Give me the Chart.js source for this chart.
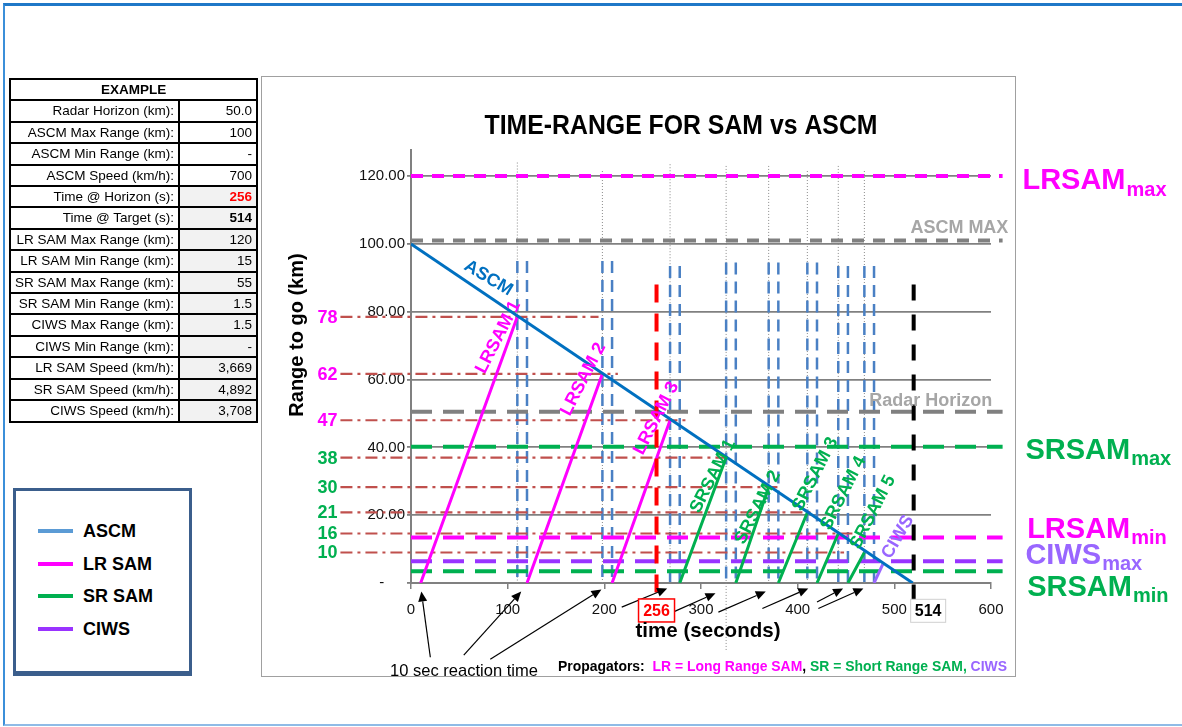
<!DOCTYPE html>
<html>
<head>
<meta charset="utf-8">
<script src="https://cdn.jsdelivr.net/npm/chart.js@4.4.1/dist/chart.umd.min.js"></script>
<style>
html, body { margin: 0; padding: 0; background: #fff; }
body { width: 1182px; height: 727px; position: relative; overflow: hidden; font-family: "Liberation Sans", Arial, sans-serif; }
#frame { position: absolute; left: 3px; top: 3px; width: 1179px; height: 723px; box-sizing: border-box;
  border-top: 3px solid #1f78c8; border-left: 2px solid #3b8fd9; border-bottom: 2px solid #8fbbe6; }
#chartBox { position: absolute; left: 261px; top: 76px; width: 755px; height: 601px; box-sizing: border-box;
  border: 1.5px solid #a0a0a0; background: #fff; }
#cv { position: absolute; left: 0; top: 0; }
#tbl { position: absolute; left: 9px; top: 78px; border-collapse: collapse; font-size: 13.5px; color: #000; }
#tbl td, #tbl th { border: 2px solid #000; padding: 0 4px; height: 19.4px; line-height: 19.4px; text-align: right; white-space: nowrap; }
#tbl th { text-align: center; font-weight: bold; }
#tbl td.lab { width: 158px; }
#tbl td.val { width: 68px; }
#legend { position: absolute; left: 13px; top: 488px; width: 179px; height: 188px; box-sizing: border-box;
  border: 3px solid #3b5e8c; border-bottom-width: 5px; background: #fff; }
#legend .sw { position: absolute; left: 22px; width: 35px; height: 4px; }
#legend .tx { position: absolute; left: 67px; font: bold 18px "Liberation Sans", Arial, sans-serif; line-height: 20px; }
</style>
</head>
<body>
<div id="frame"></div>
<div id="chartBox"></div>
<canvas id="cv" width="1182" height="727"></canvas>
<table id="tbl"></table>
<div id="legend"></div>
<script>
// ---- data ----
const timeTicks = [0, 100, 200, 300, 400, 500, 600];
const rangeTicks = [0, 20, 40, 60, 80, 100, 120];

const ascmTime = [0, 519];
const ascmRange = [100, 0];

const lrLaunchTime = [10, 120, 208];
const lrHitTime = [110, 198, 268];
const lrHitRange = [78.5, 61.7, 48];

const srLaunchTime = [278, 336, 380, 420, 452];
const srHitTime = [326, 370, 410, 442, 469];
const srHitRange = [37, 28.3, 20.8, 14.6, 9];

const ciwsTime = [479, 488];
const ciwsRange = [0, 5.5];

// thin dotted markers at every intercept
const hitLineTop = [124, 121.5, 123.5, 123, 123, 121.5, 123, 121.5];
const hitLineBottom = [0, 0, 0, -20, 0, 0, 0, 0];

// blue dashed pairs: intercept and next launch
const pairTime = [[110, 120], [198, 208], [268, 278], [326, 336], [370, 380], [410, 420], [442, 452], [469, 479]];
const pairTop = [95, 95, 93.5, 94.5, 94.5, 94.5, 93.5, 93.5];

// dash-dot range lines at each intercept
const hitLabels = ['78', '62', '47', '38', '30', '21', '16', '10'];
const hitLineStart = -73;
const hitLineEnd = [194, 214, 285, 332, 382, 418, 458, 448];

// limit lines
const limitNames = ['LRSAM max', 'ASCM MAX', 'Radar Horizon', 'SRSAM max', 'LRSAM min', 'CIWS max', 'SRSAM min'];
const limitRange = [120, 101, 50.5, 40.2, 13.4, 6.4, 3.5];
const limitEnd = 612;

const horizonTime = 254;
const targetTime = 520;
const markerTop = 88;
const markerBottom = -5;

// reaction time arrows (tail -> tip)
const arrowTail = [[20, -21.9], [54.6, -21.3], [82, -22.5], [218, -7.1], [271, -8.6], [318, -8.6], [363.5, -7.5], [420, -5.6], [421.4, -7.5]];
const arrowTip = [[10.7, -2.5], [114, -2.5], [197, -1.9], [265, -1.6], [315, -3], [367, -2.5], [411, -1.6], [447, -1.6], [468, -1.6]];

// table
const tableLabels = ['Radar Horizon (km):', 'ASCM Max Range (km):', 'ASCM Min Range (km):', 'ASCM Speed (km/h):',
  'Time @ Horizon (s):', 'Time @ Target (s):', 'LR SAM Max Range (km):', 'LR SAM Min Range (km):',
  'SR SAM Max Range (km):', 'SR SAM Min Range (km):', 'CIWS Max Range (km):', 'CIWS Min Range (km):',
  'LR SAM Speed (km/h):', 'SR SAM Speed (km/h):', 'CIWS Speed (km/h):'];
const tableValues = ['50.0', '100', '-', '700', '256', '514', '120', '15', '55', '1.5', '1.5', '-', '3,669', '4,892', '3,708'];

const legendNames = ['ASCM', 'LR SAM', 'SR SAM', 'CIWS'];
const legendColors = ['#5b9bd5', '#ff00ff', '#00b050', '#9933ff'];

// ---- colours ----
const BLUE = '#0070c0', MAG = '#ff00ff', GREEN = '#00b050', PURPLE = '#9933ff', LPURPLE = '#9966ff';
const GRAY = '#808080', LGRAY = '#a6a6a6', BROWN = '#c0504d', STEEL = '#4a80c4';
const FONT = '"Liberation Sans", Arial, sans-serif';

// ---- table + legend (html) ----
const tbl = document.getElementById('tbl');
let html = '<tr><th colspan="2">EXAMPLE</th></tr>';
tableLabels.forEach((l, i) => {
  let style = i >= 4 ? 'background:#f2f2f2;' : '';
  if (i === 4) style += 'color:#ff0000;font-weight:bold;';
  if (i === 5) style += 'font-weight:bold;';
  html += '<tr><td class="lab">' + l + '</td><td class="val" style="' + style + '">' + tableValues[i] + '</td></tr>';
});
tbl.innerHTML = html;

const leg = document.getElementById('legend');
legendNames.forEach((n, i) => {
  const cy = 40 + i * 32.7;
  leg.innerHTML += '<div class="sw" style="top:' + (cy - 2) + 'px;background:' + legendColors[i] + '"></div>' +
    '<div class="tx" style="top:' + (cy - 10) + 'px">' + n + '</div>';
});

// ---- datasets ----
function segs(list) {
  const out = [];
  list.forEach((s, i) => {
    if (i) out.push({ x: s[0][0], y: null });
    out.push({ x: s[0][0], y: s[0][1] }, { x: s[1][0], y: s[1][1] });
  });
  return out;
}
function lineDs(data, color, width, dash, order, clip) {
  return { data, borderColor: color, borderWidth: width, borderDash: dash || [], order,
    clip: clip ? false : undefined, pointRadius: 0, fill: false, spanGaps: false, tension: 0 };
}

const hitTime = lrHitTime.concat(srHitTime);
const hitRange = lrHitRange.concat(srHitRange);

const datasets = [];
datasets.push(lineDs(segs([[[horizonTime, markerTop], [horizonTime, markerBottom]]]), '#ff0000', 4, [18, 11], 1, true));
datasets.push(lineDs(segs([[[targetTime, markerTop], [targetTime, markerBottom]]]), '#000000', 4, [16, 14], 1, true));
datasets.push(lineDs(ascmTime.map((t, i) => ({ x: t, y: ascmRange[i] })), BLUE, 3, null, 2));
datasets.push(lineDs(ciwsTime.map((t, i) => ({ x: t, y: ciwsRange[i] })), LPURPLE, 3, null, 3));
datasets.push(lineDs(segs(srLaunchTime.map((t, i) => [[t, 0], [srHitTime[i], srHitRange[i]]])), GREEN, 3, null, 4));
datasets.push(lineDs(segs(lrLaunchTime.map((t, i) => [[t, 0], [lrHitTime[i], lrHitRange[i]]])), MAG, 3, null, 5));
const limitColors = [MAG, GRAY, GRAY, GREEN, MAG, PURPLE, GREEN];
limitRange.forEach((r, i) => {
  datasets.push(lineDs([{ x: 0, y: r }, { x: limitEnd, y: r }], limitColors[i], 4, i < 2 ? [12, 9] : [21, 11], 6, true));
});
datasets.push(lineDs(segs(hitRange.map((r, i) => [[hitLineStart, r], [hitLineEnd[i], r]])), BROWN, 2.2, [12, 5, 3, 5], 7, true));
const pairSegs = [];
pairTime.forEach((p, i) => { p.forEach(t => pairSegs.push([[t, pairTop[i]], [t, 0]])); });
datasets.push(lineDs(segs(pairSegs), STEEL, 2.5, [12, 7], 8));
datasets.push(lineDs(segs(hitTime.map((t, i) => [[t, hitLineTop[i]], [t, hitLineBottom[i]]])), '#8a8a8a', 1, [1, 2], 9, true));

// ---- annotation text ----
const curveLabels = [
  { text: 'ASCM', t: 80, r: 89.9, a: 31, c: BLUE },
  { text: 'LRSAM 1', t: 90.3, r: 72.5, a: -63, c: MAG },
  { text: 'LRSAM 2', t: 178.3, r: 60.1, a: -63, c: MAG },
  { text: 'LRSAM 3', t: 253.8, r: 48.6, a: -63, c: MAG },
  { text: 'SRSAM 1', t: 312.3, r: 31.5, a: -63, c: GREEN },
  { text: 'SRSAM 2', t: 358.8, r: 22.3, a: -63, c: GREEN },
  { text: 'SRSAM 3', t: 418.3, r: 32.1, a: -63, c: GREEN },
  { text: 'SRSAM 4', t: 447.3, r: 26.5, a: -63, c: GREEN },
  { text: 'SRSAM 5', t: 477.8, r: 20.9, a: -63, c: GREEN },
  { text: 'CIWS', t: 503.7, r: 13.6, a: -60, c: LPURPLE }
];
const sideLabels = [
  { main: 'LRSAM', sub: 'max', c: MAG, t: 632.5, r: 116.1 },
  { main: 'SRSAM', sub: 'max', c: GREEN, t: 635.6, r: 36.7 },
  { main: 'LRSAM', sub: 'min', c: MAG, t: 637.4, r: 13.3 },
  { main: 'CIWS', sub: 'max', c: LPURPLE, t: 635.6, r: 5.7 },
  { main: 'SRSAM', sub: 'min', c: GREEN, t: 637.4, r: -3.8 }
];

function txt(ctx, s, x, y, font, color, align, maxW, base) {
  ctx.save();
  ctx.font = font; ctx.fillStyle = color; ctx.textAlign = align || 'center'; ctx.textBaseline = base || 'middle';
  if (maxW) ctx.fillText(s, x, y, maxW); else ctx.fillText(s, x, y);
  ctx.restore();
}
function runs(ctx, parts, x, y, font, width) {
  ctx.save();
  ctx.font = font; ctx.textBaseline = 'middle'; ctx.textAlign = 'left';
  const total = parts.reduce((s, p) => s + ctx.measureText(p[0]).width, 0);
  const k = Math.min(1, width / total);
  ctx.translate(x, y); ctx.scale(k, 1);
  let cx = 0;
  parts.forEach(p => { ctx.fillStyle = p[1]; ctx.fillText(p[0], cx, 0); cx += ctx.measureText(p[0]).width; });
  ctx.restore();
}
function arrow(ctx, x1, y1, x2, y2) {
  const ang = Math.atan2(y2 - y1, x2 - x1), L = 10, W = 4.5;
  const bx = x2 - L * Math.cos(ang), by = y2 - L * Math.sin(ang);
  ctx.beginPath(); ctx.moveTo(x1, y1); ctx.lineTo(bx, by); ctx.stroke();
  ctx.beginPath(); ctx.moveTo(x2, y2);
  ctx.lineTo(bx + W * Math.sin(ang), by - W * Math.cos(ang));
  ctx.lineTo(bx - W * Math.sin(ang), by + W * Math.cos(ang));
  ctx.closePath(); ctx.fill();
}

const overlay = {
  id: 'overlay',
  afterDatasetsDraw(chart) {
    const ctx = chart.ctx, xs = chart.scales.x, ys = chart.scales.y;
    const X = t => xs.getPixelForValue(t), Y = r => ys.getPixelForValue(r);

    ctx.save(); ctx.strokeStyle = '#000'; ctx.fillStyle = '#000'; ctx.lineWidth = 1.2;
    arrowTail.forEach((a, i) => arrow(ctx, X(a[0]), Y(a[1]), X(arrowTip[i][0]), Y(arrowTip[i][1])));
    ctx.restore();

    hitRange.forEach((r, i) => txt(ctx, hitLabels[i], X(hitLineStart) - 3, Y(r) + 1, 'bold 18px ' + FONT, i < 3 ? MAG : GREEN, 'right'));

    curveLabels.forEach(l => {
      ctx.save();
      ctx.translate(X(l.t), Y(l.r)); ctx.rotate(l.a * Math.PI / 180);
      txt(ctx, l.text, 0, 0, 'bold 18px ' + FONT, l.c, 'center');
      ctx.restore();
    });

    sideLabels.forEach(l => {
      ctx.save();
      ctx.textBaseline = 'alphabetic'; ctx.textAlign = 'left'; ctx.fillStyle = l.c;
      ctx.font = 'bold 29px ' + FONT;
      const x0 = X(l.t), y0 = Y(l.r);
      ctx.fillText(l.main, x0, y0);
      const w = ctx.measureText(l.main).width;
      ctx.font = 'bold 20px ' + FONT;
      ctx.fillText(l.sub, x0 + w + 1, y0 + 6.5);
      ctx.restore();
    });

    txt(ctx, 'ASCM MAX', X(516.6), Y(104.7), 'bold 18px ' + FONT, LGRAY, 'left', 98);
    txt(ctx, 'Radar Horizon', X(474), Y(53.6), 'bold 18px ' + FONT, LGRAY, 'left', 126);

    // 256 / 514 value boxes
    ctx.save();
    let bx = X(horizonTime), by = Y(-8.1);
    ctx.fillStyle = '#fff'; ctx.fillRect(bx - 18, by - 11.5, 36, 23);
    ctx.strokeStyle = '#ff0000'; ctx.lineWidth = 1.5; ctx.strokeRect(bx - 18, by - 11.5, 36, 23);
    txt(ctx, String(tableValues[4]), bx, by + 1, 'bold 16px ' + FONT, '#ff0000', 'center');
    bx = X(targetTime) - 3; by = Y(-8.2);
    ctx.fillStyle = '#fff'; ctx.fillRect(bx, by - 11.5, 35, 23);
    ctx.strokeStyle = '#d0d0d0'; ctx.lineWidth = 1; ctx.strokeRect(bx, by - 11.5, 35, 23);
    txt(ctx, String(tableValues[5]), bx + 17.5, by + 1, 'bold 16px ' + FONT, '#000', 'center');
    ctx.restore();

    // titles and notes
    txt(ctx, 'TIME-RANGE FOR SAM vs ASCM', 681, 127, 'bold 27px ' + FONT, '#000', 'center', 393);
    txt(ctx, 'time (seconds)', 708, 631, 'bold 21px ' + FONT, '#000', 'center', 145);
    ctx.save();
    ctx.translate(297, 335); ctx.rotate(-Math.PI / 2);
    txt(ctx, 'Range to go (km)', 0, 0, 'bold 20px ' + FONT, '#000', 'center', 170);
    ctx.restore();
    txt(ctx, '10 sec reaction time', 464, 671, '17px ' + FONT, '#000', 'center', 148);
    runs(ctx, [['Propagators:  ', '#000'], ['LR = Long Range SAM', MAG], [', ', '#000'],
      ['SR = Short Range SAM,', GREEN], [' CIWS', LPURPLE]], 558, 667, 'bold 15px ' + FONT, 449);
  }
};

Chart.defaults.font.family = FONT;
new Chart(document.getElementById('cv').getContext('2d'), {
  type: 'line',
  data: { datasets },
  options: {
    responsive: false,
    animation: false,
    events: [],
    layout: { padding: { left: 351, right: 191, top: 150, bottom: 104 } },
    plugins: { legend: { display: false }, title: { display: false }, tooltip: { enabled: false } },
    scales: {
      x: {
        type: 'linear', min: 0, max: 600,
        afterFit: s => { s.height = 40; },
        afterBuildTicks: s => { s.ticks = timeTicks.map(v => ({ value: v })); },
        grid: { drawOnChartArea: false, drawTicks: true, tickLength: 6, color: GRAY, lineWidth: 1.5 },
        border: { color: GRAY, width: 2 },
        ticks: { color: '#111', font: { size: 15 }, padding: 12, maxRotation: 0 }
      },
      y: {
        type: 'linear', min: 0, max: 127.7,
        afterFit: s => { s.width = 60; },
        afterBuildTicks: s => { s.ticks = rangeTicks.map(v => ({ value: v })); },
        grid: { color: GRAY, lineWidth: 1.8, tickLength: 4, drawTicks: true },
        border: { color: GRAY, width: 2 },
        ticks: { color: '#111', font: { size: 15 }, padding: 2,
          callback: v => v === 0 ? '-     ' : v.toFixed(2) }
      }
    }
  },
  plugins: [overlay]
});
</script>
</body>
</html>
